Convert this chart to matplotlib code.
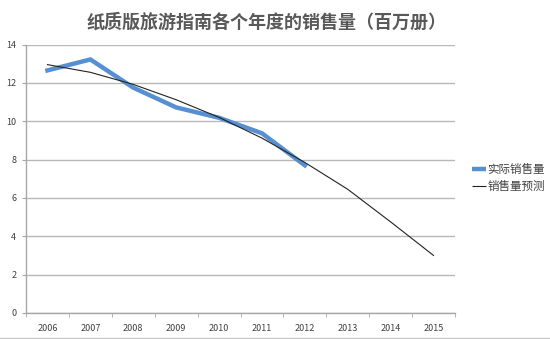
import matplotlib
matplotlib.use("Agg")
import matplotlib.pyplot as plt
from matplotlib.lines import Line2D

plt.rcParams['font.family'] = ['Noto Sans CJK SC', 'DejaVu Sans']

years = ["2006", "2007", "2008", "2009", "2010", "2011", "2012", "2013", "2014", "2015"]
actual = [12.65, 13.22, 11.75, 10.72, 10.18, 9.37, 7.7]
forecast = [12.95, 12.55, 11.92, 11.12, 10.2, 9.12, 7.85, 6.45, 4.75, 3.0]

title = "纸质版旅游指南各个年度的销售量（百万册）"
label_actual = "实际销售量"
label_forecast = "销售量预测"

fig = plt.figure(figsize=(5.5, 3.39), dpi=100)
ax = fig.add_axes([26 / 550, 26 / 339, 429 / 550, 268.5 / 339])

x = list(range(len(years)))
ax.plot(x, forecast, color="#222222", lw=0.8, zorder=3)
ax.plot(x[:len(actual)], actual, color="#5690d2", lw=3.2,
        solid_joinstyle="miter", zorder=2)

ax.set_xlim(-0.5, len(years) - 0.5)
ax.set_ylim(0, 14)
ax.set_yticks(range(0, 15, 2))
ax.set_xticks(x)
ax.set_xticklabels(years)
ax.set_xticks([i + 0.5 for i in x[:-1]] + [-0.5, len(years) - 0.5], minor=True)

ax.grid(axis="y", color="#b8b8b8", lw=1)
ax.set_axisbelow(True)
for s in ["top", "right"]:
    ax.spines[s].set_visible(False)
for s in ["left", "bottom"]:
    ax.spines[s].set_color("#a6a6a6")
    ax.spines[s].set_linewidth(1)

ax.tick_params(axis="x", which="major", length=0, labelsize=6.5,
               labelcolor="#404040", pad=8)
ax.tick_params(axis="x", which="minor", length=3, color="#a6a6a6")
ax.tick_params(axis="y", length=3, color="#a6a6a6", labelsize=6.5,
               labelcolor="#404040", pad=4)

fig.text(0.485, 0.935, title, ha="center", va="center", fontsize=13,
         color="#595959", fontweight="bold")

handles = [Line2D([], [], color="#5690d2", lw=3.2, solid_capstyle="butt"),
           Line2D([], [], color="#222222", lw=0.8, solid_capstyle="butt")]
leg = fig.legend(handles, [label_actual, label_forecast], loc="center left",
                 bbox_to_anchor=(472 / 550, 1 - 178 / 339), frameon=False,
                 fontsize=8.3, handlelength=1.2, handletextpad=0.15,
                 labelspacing=0.3, borderaxespad=0, borderpad=0)
for t in leg.get_texts():
    t.set_color("#404040")

fig.add_artist(Line2D([0, 1], [1.5 / 339, 1.5 / 339], color="#c8c8c8", lw=1,
                      transform=fig.transFigure))

fig.savefig("out.png", dpi=100)
